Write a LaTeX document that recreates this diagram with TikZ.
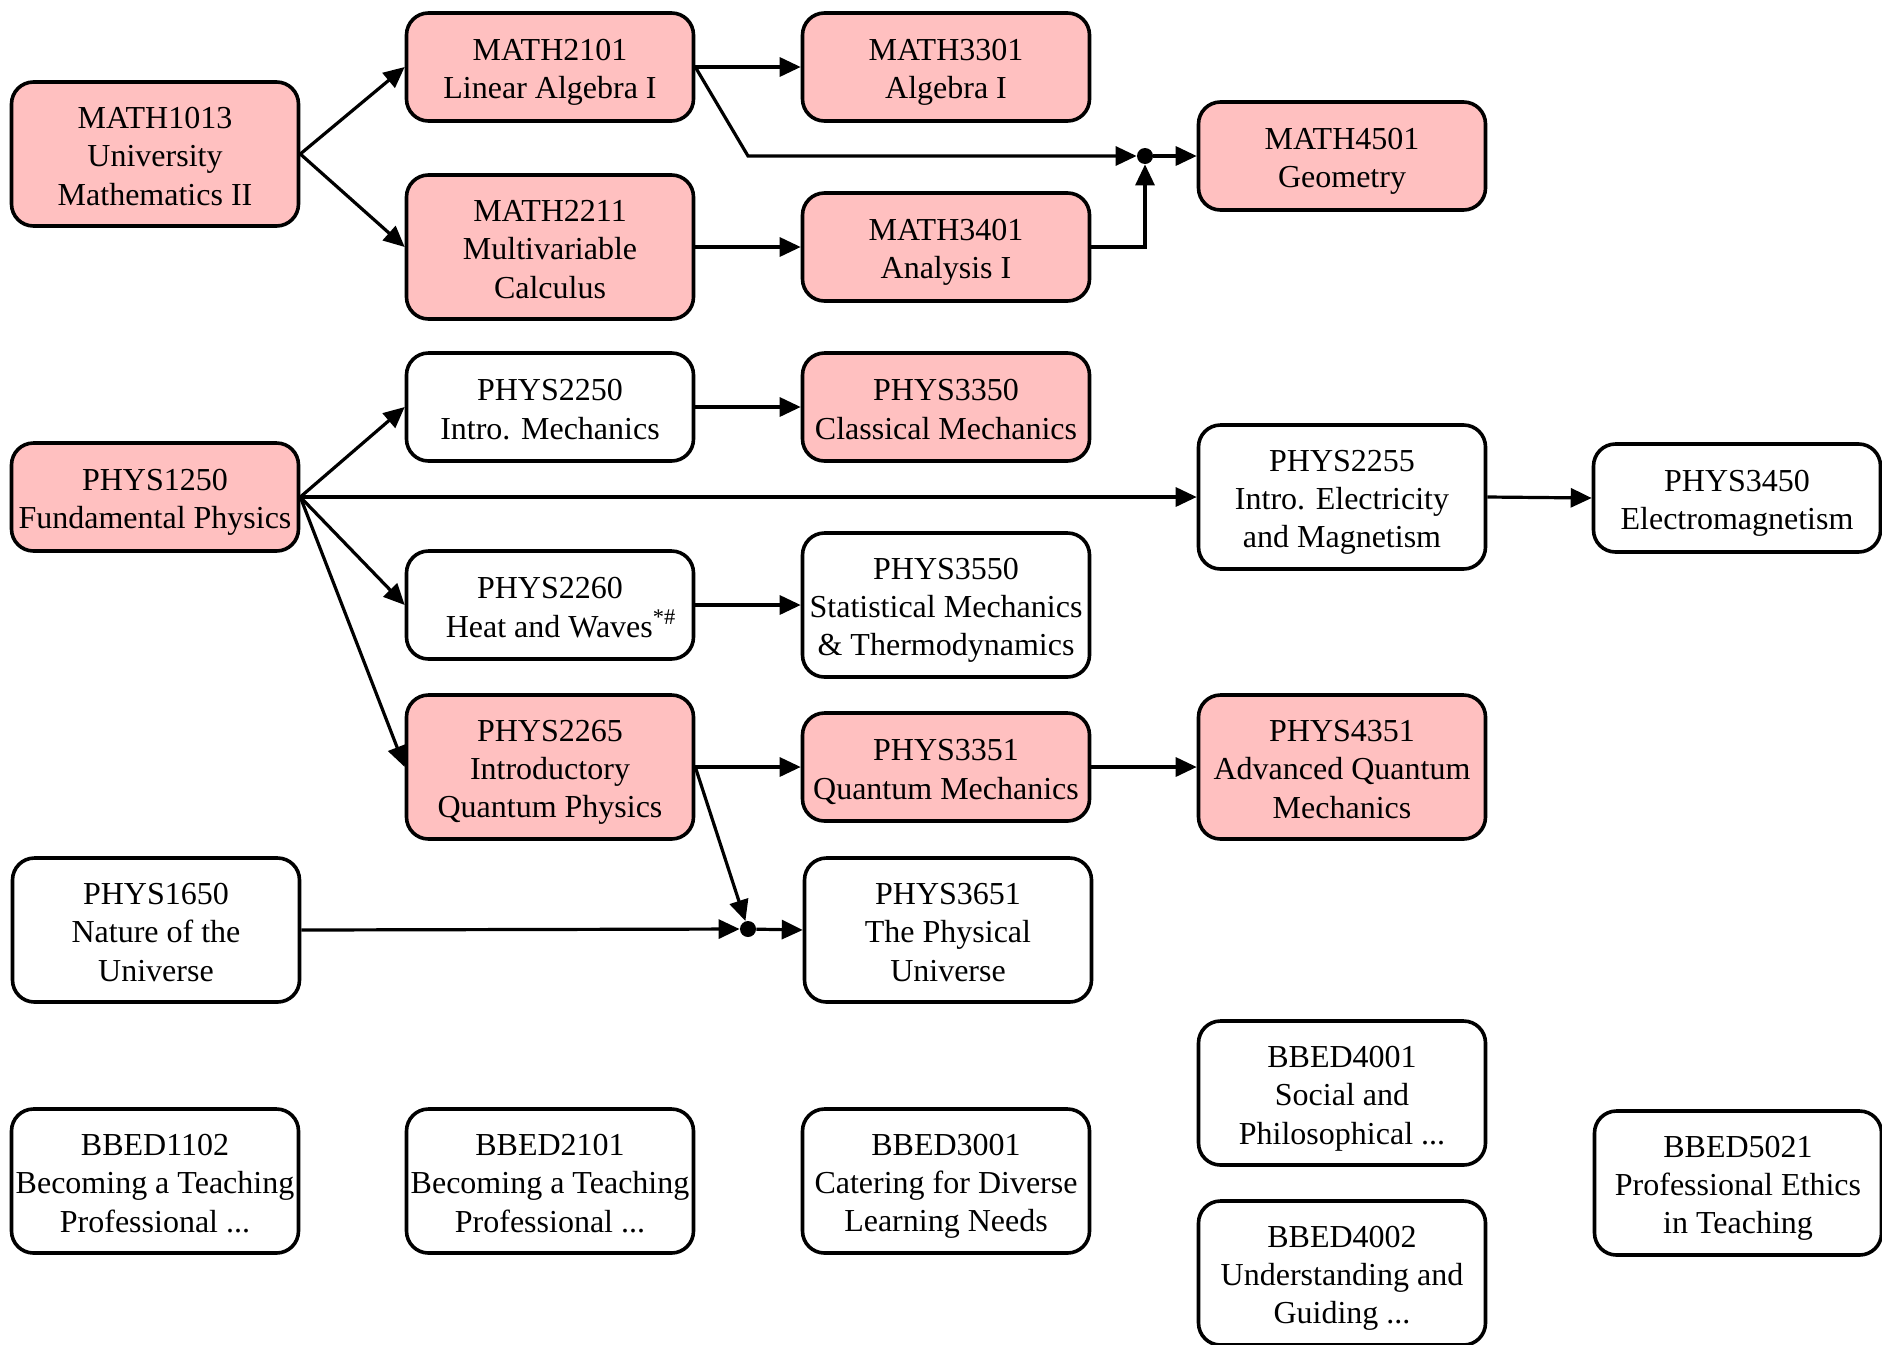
\documentclass[tikz,border=0pt]{standalone}
\usepackage{fontspec}
\setmainfont{Liberation Serif}
\usetikzlibrary{arrows.meta}
\definecolor{pinkfill}{RGB}{255,192,192}
\newcommand\firstln{\rule{0pt}{16pt}}
\newcommand\lastln{\rule[-3.2pt]{0pt}{3.2pt}}
\begin{document}
\begin{tikzpicture}[x=0.5pt,y=-0.5pt,
 course/.style={draw=black, line width=1.8pt, rounded corners=11pt, minimum width=143.5pt, inner sep=0pt, align=center, font=\fontsize{16}{19.2}\selectfont},
 two/.style={course, minimum height=54pt},
 three/.style={course, minimum height=72pt},
 done/.style={fill=pinkfill},
 arr/.style={line width=1.6pt, -{Triangle[length=10.5pt,width=9.5pt]}},
 jdot/.style={circle, fill=black, inner sep=0pt, minimum size=8pt}
]
\useasboundingbox (0,0) rectangle (1882,1344);
% maths
\node[three,done] (m1013) at (155,154) {\firstln MATH1013\\University\\Mathematics II\lastln};
\node[two,done] (m2101) at (550,67) {\firstln MATH2101\\Linear Algebra I\lastln};
\node[three,done] (m2211) at (550,247) {\firstln MATH2211\\Multivariable\\Calculus\lastln};
\node[two,done] (m3301) at (946,67) {\firstln MATH3301\\Algebra I\lastln};
\node[two,done] (m3401) at (946,247) {\firstln MATH3401\\Analysis I\lastln};
\node[two,done] (m4501) at (1342,156) {\firstln MATH4501\\Geometry\lastln};
\node[jdot] (jm) at (1145,156) {};
% physics
\node[two,done] (p1250) at (155,497) {\firstln PHYS1250\\Fundamental Physics\lastln};
\node[two] (p2250) at (550,407) {\firstln PHYS2250\\Intro. Mechanics\lastln};
\node[two,done] (p3350) at (946,407) {\firstln PHYS3350\\Classical Mechanics\lastln};
\node[three] (p2255) at (1342,497) {\firstln PHYS2255\\Intro. Electricity\\and Magnetism\lastln};
\node[two] (p3450) at (1737,498) {\firstln PHYS3450\\Electromagnetism\lastln};
\node[two] (p2260) at (550,605) {\firstln PHYS2260\\\hspace*{11pt}Heat and Waves\textsuperscript{*\#}\lastln};
\node[three] (p3550) at (946,605) {\firstln PHYS3550\\Statistical Mechanics\\\& Thermodynamics\lastln};
\node[three,done] (p2265) at (550,767) {\firstln PHYS2265\\Introductory\\Quantum Physics\lastln};
\node[two,done] (p3351) at (946,767) {\firstln PHYS3351\\Quantum Mechanics\lastln};
\node[three,done] (p4351) at (1342,767) {\firstln PHYS4351\\Advanced Quantum\\Mechanics\lastln};
\node[three] (p1650) at (156,930) {\firstln PHYS1650\\Nature of the\\Universe\lastln};
\node[three] (p3651) at (948,930) {\firstln PHYS3651\\The Physical\\Universe\lastln};
\node[jdot] (jp) at (748,929) {};
% education
\node[three] (b1102) at (155,1181) {\firstln BBED1102\\Becoming a Teaching\\Professional ...\lastln};
\node[three] (b2101) at (550,1181) {\firstln BBED2101\\Becoming a Teaching\\Professional ...\lastln};
\node[three] (b3001) at (946,1181) {\firstln BBED3001\\Catering for Diverse\\Learning Needs\lastln};
\node[three] (b4001) at (1342,1093) {\firstln BBED4001\\Social and\\Philosophical ...\lastln};
\node[three] (b4002) at (1342,1273) {\firstln BBED4002\\Understanding and\\Guiding ...\lastln};
\node[three] (b5021) at (1738,1183) {\firstln BBED5021\\Professional Ethics\\in Teaching\lastln};
% edges maths
\draw[arr] (m1013.east) -- (m2101.west);
\draw[arr] (m1013.east) -- (m2211.west);
\draw[arr] (m2101.east) -- (m3301.west);
\draw[arr] (m2211.east) -- (m3401.west);
\draw[arr] (m2101.east) -- (748,156) -- (jm);
\draw[arr] (m3401.east) -| (jm);
\draw[arr] (jm) -- (m4501.west);
% edges physics
\draw[arr] (p1250.east) -- (p2250.west);
\draw[arr] (p1250.east) -- (p2255.west);
\draw[arr] (p1250.east) -- (p2260.west);
\draw[arr] (p1250.east) -- (p2265.west);
\draw[arr] (p2250.east) -- (p3350.west);
\draw[arr] (p2255.east) -- (p3450.west);
\draw[arr] (p2260.east) -- (p3550.west);
\draw[arr] (p2265.east) -- (p3351.west);
\draw[arr] (p3351.east) -- (p4351.west);
\draw[arr] (p2265.east) -- (jp);
\draw[arr] (p1650.east) -- (jp);
\draw[arr] (jp) -- (p3651.west);
\end{tikzpicture}
\end{document}
